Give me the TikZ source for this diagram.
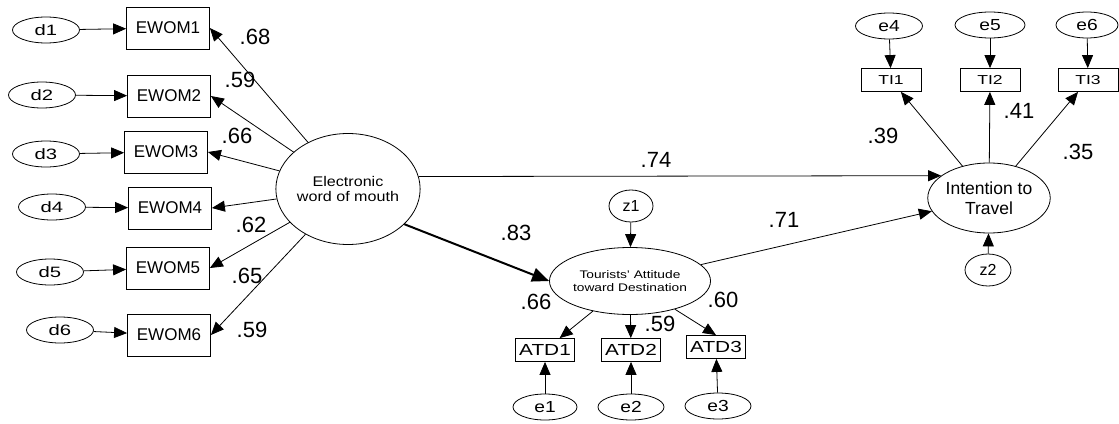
\documentclass[tikz,border=0pt]{standalone}
\usepackage{graphicx}
\usepackage{fontspec}
\setmainfont{Liberation Sans}
\usetikzlibrary{arrows.meta,shapes.geometric}
\newcommand\sx[2]{\scalebox{#1}[1]{#2}}
\tikzset{
  obs/.style={draw,rectangle,inner sep=0pt,line width=0.8pt},
  err/.style={draw,ellipse,inner sep=0pt,line width=0.8pt,minimum width=67pt,minimum height=26pt},
  lat/.style={draw,ellipse,inner sep=0pt,line width=0.8pt,align=center},
  arr/.style={line width=0.8pt,-{Triangle[length=13pt,width=11pt]}},
  thickarr/.style={line width=2pt,-{Triangle[length=17pt,width=14pt]}},
  lab/.style={font=\fontsize{22}{24}\selectfont,inner sep=0pt},
  ewbox/.style={obs,minimum width=83pt,minimum height=42pt,font=\fontsize{17}{19}\selectfont},
  smbox/.style={obs,minimum width=59pt,minimum height=23pt,font=\fontsize{16}{18}\selectfont},
  tibox/.style={obs,minimum width=60pt,minimum height=23pt,font=\fontsize{13}{15}\selectfont},
  dfont/.style={font=\fontsize{15}{17}\selectfont},
  efont/.style={font=\fontsize{16}{18}\selectfont},
}
\begin{document}
\begin{tikzpicture}[x=1pt,y=-1pt]
\useasboundingbox[fill=white] (0,0) rectangle (1119,423);
% left indicators
\node[ewbox] (w1) at (168,28) {EWOM1};
\node[ewbox] (w2) at (169,96) {EWOM2};
\node[ewbox] (w3) at (166,152) {EWOM3};
\node[ewbox] (w4) at (170,208) {EWOM4};
\node[ewbox] (w5) at (168,268) {EWOM5};
\node[ewbox] (w6) at (169,335) {EWOM6};
\node[err,dfont] (d1) at (46,30) {\sx{1.35}{d1}};
\node[err,dfont] (d2) at (42,95) {\sx{1.35}{d2}};
\node[err,dfont] (d3) at (46,154) {\sx{1.35}{d3}};
\node[err,dfont] (d4) at (52,207) {\sx{1.35}{d4}};
\node[err,dfont] (d5) at (50,272) {\sx{1.35}{d5}};
\node[err,dfont] (d6) at (60,330) {\sx{1.35}{d6}};
% latent
\node[lat,minimum width=139pt,minimum height=111pt,font=\fontsize{14}{15.5}\selectfont] (ew) at (348,189) {\sx{1.15}{Electronic}\\\sx{1.15}{word of mouth}};
\node[lat,minimum width=104pt,minimum height=67pt,font=\fontsize{11}{13}\selectfont] (ta) at (630,281) {\sx{1.25}{Tourists' Attitude}\\\sx{1.25}{toward Destination}};
\node[lat,minimum width=102pt,minimum height=70pt,font=\fontsize{17.5}{19.5}\selectfont] (it) at (989,198) {Intention to\\Travel};
% middle
\node[err,efont,minimum width=44pt,minimum height=32pt] (z1) at (631,206) {z1};
\node[smbox] (a1) at (545,350) {\sx{1.3}{ATD1}};
\node[smbox] (a2) at (631,350) {\sx{1.3}{ATD2}};
\node[smbox] (a3) at (716,347) {\sx{1.3}{ATD3}};
\node[err,efont,minimum width=64pt] (e1) at (545,407) {\sx{1.2}{e1}};
\node[err,efont,minimum width=66pt] (e2) at (631,407) {\sx{1.2}{e2}};
\node[err,efont,minimum width=66pt] (e3) at (718,406) {\sx{1.2}{e3}};
% right
\node[tibox] (t1) at (891,80) {\sx{1.35}{TI1}};
\node[tibox] (t2) at (990,80) {\sx{1.35}{TI2}};
\node[tibox] (t3) at (1088,80) {\sx{1.35}{TI3}};
\node[err,efont,minimum width=67pt] (e4) at (889,26) {\sx{1.2}{e4}};
\node[err,efont,minimum width=70pt] (e5) at (990,25) {\sx{1.2}{e5}};
\node[err,efont,minimum width=62pt] (e6) at (1087,25) {\sx{1.2}{e6}};
\node[err,efont,minimum width=46pt,minimum height=32pt] (z2) at (988,270) {z2};
% connectors
\foreach \i in {1,...,6} {
  \draw[arr] (d\i) -- (w\i);
  \draw[arr] (ew) -- (w\i.east);
}
\draw[arr] (ew.10) -- (it.155);
\draw[thickarr] (ew.-32) -- (ta.west);
\draw[arr] (ta) -- (it);
\draw[arr] (z1) -- (ta);
\draw[arr] (ta) -- (a1);
\draw[arr] (ta) -- (a2);
\draw[arr] (ta) -- (a3.north);
\draw[arr] (e1) -- (a1);
\draw[arr] (e2) -- (a2);
\draw[arr] (e3) -- (a3);
\draw[arr] (it) -- (t1);
\draw[arr] (it) -- (t2);
\draw[arr] (it) -- (t3);
\draw[arr] (e4) -- (t1);
\draw[arr] (e5) -- (t2);
\draw[arr] (e6) -- (t3);
\draw[arr] (z2) -- (it);
% labels
\node[lab] (l1) at (255,37) {.68};
\node[lab] (l2) at (240,80) {.59};
\node[lab] (l3) at (237,136) {.66};
\node[lab] (l4) at (251,225) {.62};
\node[lab] (l5) at (247,276) {.65};
\node[lab] (l6) at (252,330) {.59};
\node[lab] (l7) at (656,160) {.74};
\node[lab] (l8) at (516,233) {.83};
\node[lab] (l9) at (784,220) {.71};
\node[lab] (l10) at (536,302) {.66};
\node[lab] (l11) at (660,324) {.59};
\node[lab] (l12) at (723,300) {.60};
\node[lab] (l13) at (883,136) {.39};
\node[lab] (l14) at (1019,111) {.41};
\node[lab] (l15) at (1078,152) {.35};
\end{tikzpicture}
\end{document}
